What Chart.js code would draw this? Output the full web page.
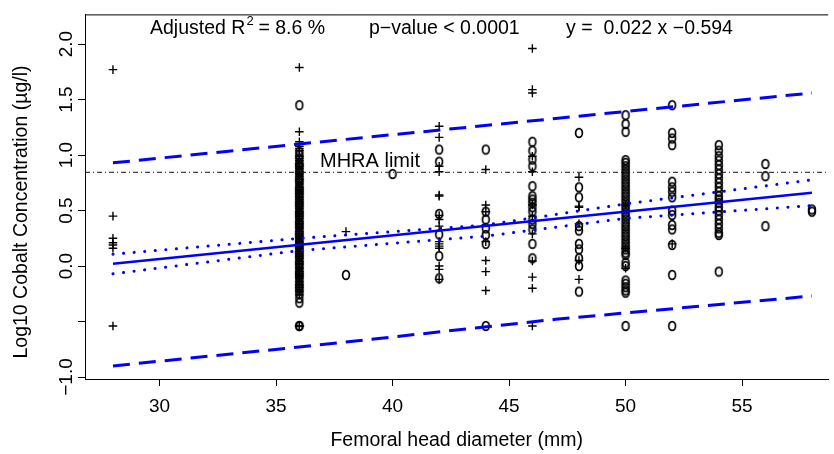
<!DOCTYPE html>
<html>
<head>
<meta charset="utf-8">
<script src="https://cdn.jsdelivr.net/npm/chart.js@4.4.1/dist/chart.umd.min.js"></script>
<style>
html, body { margin: 0; padding: 0; background: #fff; }
</style>
</head>
<body>
<canvas id="chart" width="834" height="454"></canvas>
<script>
// femoral head diameters (mm) and log10 cobalt values
const diameters = [28, 36, 38, 40, 42, 44, 46, 48, 50, 52, 54, 56, 58];
const plusValues = [
    [1.77, 0.45, 0.25, 0.21, 0.19, 0.16, -0.54],
    [1.79, 1.21, 1.12, 1.08, 1.06, 1.04, 0.99, 0.97, 0.95, 0.92, 0.90, 0.88, 0.85, 0.83, 0.81, 0.78, 0.76, 0.74, 0.71, 0.69, 0.67, 0.65, 0.62, 0.60, 0.58, 0.56, 0.54, 0.52, 0.49, 0.47, 0.45, 0.43, 0.40, 0.38, 0.36, 0.34, 0.31, 0.29, 0.27, 0.25, 0.22, 0.20, 0.18, 0.16, 0.13, 0.11, 0.09, 0.07, 0.04, 0.02, -0.02, -0.05, -0.07, -0.09, -0.11, -0.14, -0.17, -0.19, -0.23, -0.26, -0.54, -0.54],
    [0.31],
    [],
    [1.26, 1.16, 0.90, 0.85, 0.64, 0.63, 0.455, 0.42, 0.36, 0.22, 0.20, 0.18, 0.16, 0.0, -0.03, -0.12],
    [0.87, 0.55, 0.49, 0.22, 0.05, -0.05, -0.22],
    [1.96, 1.59, 1.56, 0.99, 0.85, 0.55, 0.45, 0.29, 0.045, -0.10, -0.20, -0.54],
    [0.80, 0.54, 0.53, 0.38, 0.05, -0.12],
    [0.55, 0.16, -0.02],
    [0.20],
    [],
    [],
    []
];
const circleValues = [
    [],
    [1.45, 1.03, 1.00, 0.97, 0.93, 0.91, 0.89, 0.86, 0.84, 0.80, 0.78, 0.76, 0.72, 0.70, 0.68, 0.66, 0.64, 0.62, 0.59, 0.57, 0.55, 0.53, 0.50, 0.48, 0.46, 0.44, 0.41, 0.39, 0.37, 0.35, 0.32, 0.30, 0.28, 0.26, 0.23, 0.21, 0.19, 0.17, 0.14, 0.12, 0.10, 0.08, 0.05, 0.03, 0.01, -0.01, -0.04, -0.06, -0.08, -0.10, -0.13, -0.16, -0.18, -0.20, -0.22, -0.25, -0.29, -0.33, -0.54, -0.54],
    [-0.08],
    [0.83],
    [1.05, 0.94, 0.47, 0.285, 0.09, -0.11],
    [1.05, 0.49, 0.42, 0.34, 0.28, 0.20, -0.54],
    [1.12, 1.04, 0.96, 0.90, 0.72, 0.63, 0.60, 0.57, 0.53, 0.49, 0.42, 0.38, 0.33, 0.20, 0.07],
    [1.20, 0.71, 0.62, 0.36, 0.32, 0.20, 0.15, 0.07, 0.0, -0.23],
    [1.36, 1.28, 1.21, 0.955, 0.93, 0.90, 0.87, 0.84, 0.81, 0.78, 0.75, 0.72, 0.69, 0.66, 0.63, 0.60, 0.57, 0.54, 0.51, 0.48, 0.45, 0.42, 0.39, 0.36, 0.33, 0.30, 0.27, 0.24, 0.21, 0.18, 0.15, 0.12, 0.10, 0.03, 0.0, -0.13, -0.16, -0.19, -0.22, -0.24, -0.54],
    [1.45, 1.20, 1.15, 1.09, 0.76, 0.71, 0.67, 0.62, 0.50, 0.46, 0.37, 0.33, 0.19, -0.08, -0.54],
    [1.09, 1.04, 0.99, 0.95, 0.91, 0.87, 0.83, 0.79, 0.75, 0.71, 0.67, 0.63, 0.60, 0.57, 0.53, 0.50, 0.46, 0.42, 0.38, 0.34, 0.30, 0.28, -0.05],
    [0.92, 0.81, 0.36],
    [0.49, 0.51]
];

// regression line, confidence band (dotted), prediction band (dashed)
const fitX = [28, 58];
const fitY = [0.02, 0.66];
const ciX = [28, 36, 44, 50, 58];
const ciUpper = [0.107, 0.25, 0.37, 0.56, 0.777];
const ciLower = [-0.07, 0.14, 0.27, 0.43, 0.545];
const piX = [28, 36, 47, 58];
const piUpper = [0.93, 1.10, 1.33, 1.56];
const piLower = [-0.90, -0.73, -0.48, -0.27];
const mhraLimit = 0.845;

const xMin = 26.8, xMax = 58.7;
const yMin = -1.018, yMax = 2.268;
const xTicks = [30, 35, 40, 45, 50, 55];
const yTicks = [-1, -0.5, 0, 0.5, 1, 1.5, 2];
const yTickLabels = ['\u22121.0', '', '0.0', '0.5', '1.0', '1.5', '2.0'];

const FONT = '"Liberation Sans", Arial, Helvetica, sans-serif';

function toPoints(values) {
    const pts = [];
    values.forEach((list, i) => {
        list.forEach((v) => pts.push({ x: diameters[i], y: v }));
    });
    return pts;
}
function pairs(xs, ys) {
    return xs.map((x, i) => ({ x: x, y: ys[i] }));
}
function makeRing() {
    const c = document.createElement('canvas');
    c.width = 12;
    c.height = 14;
    const g = c.getContext('2d');
    g.strokeStyle = '#000';
    g.lineWidth = 1.7;
    g.beginPath();
    g.ellipse(6, 7, 3.4, 4.4, 0, 0, Math.PI * 2);
    g.stroke();
    return c;
}

function lineSet(data, width, dash, color) {
    return {
        data: data,
        showLine: true,
        borderColor: color || '#0000ff',
        borderWidth: width,
        borderDash: dash,
        borderCapStyle: dash.length && dash[0] < 1 ? 'round' : 'butt',
        pointRadius: 0,
        fill: false
    };
}

// top border, rotated y labels, y title and the text annotations
const decorations = {
    id: 'decorations',
    afterDraw(chart) {
        const { ctx, chartArea: a, scales: { y } } = chart;
        ctx.save();
        ctx.strokeStyle = '#000';
        ctx.lineWidth = 1;
        ctx.beginPath();
        ctx.moveTo(a.left, a.top + 0.5);
        ctx.lineTo(a.right, a.top + 0.5);
        ctx.stroke();

        ctx.fillStyle = '#000';
        ctx.font = '19px ' + FONT;
        ctx.textAlign = 'center';
        ctx.textBaseline = 'middle';
        yTicks.forEach((v, i) => {
            if (!yTickLabels[i]) return;
            ctx.save();
            ctx.translate(67, y.getPixelForValue(v));
            ctx.rotate(-Math.PI / 2);
            ctx.fillText(yTickLabels[i], 0, 0);
            ctx.restore();
        });

        ctx.save();
        ctx.font = '19.5px ' + FONT;
        ctx.translate(22, 212);
        ctx.rotate(-Math.PI / 2);
        ctx.fillText('Log10 Cobalt Concentration (\u00b5g/l)', 0, 0);
        ctx.restore();

        ctx.textAlign = 'left';
        ctx.textBaseline = 'alphabetic';
        ctx.font = '19.5px ' + FONT;
        ctx.fillText('Adjusted R', 150, 34);
        let w = ctx.measureText('Adjusted R').width;
        ctx.font = '13px ' + FONT;
        ctx.fillText('2', 150 + w + 1, 25);
        ctx.font = '19.5px ' + FONT;
        ctx.fillText('= 8.6 %', 150 + w + 13, 34);
        ctx.fillText('p\u2212value < 0.0001', 369, 34);
        ctx.fillText('y =  0.022 x \u22120.594', 566, 34);

        ctx.font = '20px ' + FONT;
        ctx.fillText('MHRA limit', 320, 167);
        ctx.restore();
    }
};

const ring = makeRing();

new Chart(document.getElementById('chart'), {
    type: 'scatter',
    data: {
        datasets: [
            lineSet(pairs(fitX, fitY), 2.6, []),
            lineSet(pairs(ciX, ciUpper), 3, [0.1, 10.5]),
            lineSet(pairs(ciX, ciLower), 3, [0.1, 10.5]),
            lineSet(pairs(piX, piUpper), 3, [17, 9]),
            lineSet(pairs(piX, piLower), 3, [17, 9]),
            lineSet([{ x: xMin, y: mhraLimit }, { x: xMax, y: mhraLimit }], 1, [5, 3, 1, 3], '#111'),
            {
                data: toPoints(plusValues),
                pointStyle: 'cross',
                pointRadius: 4.3,
                borderColor: '#000',
                borderWidth: 1.4,
                backgroundColor: '#000'
            },
            {
                data: toPoints(circleValues),
                pointStyle: ring,
                pointRadius: 4,
                borderColor: '#000',
                backgroundColor: '#000'
            }
        ]
    },
    options: {
        responsive: false,
        animation: false,
        events: [],
        layout: { padding: { top: 11, left: 0, right: 0, bottom: 0 } },
        plugins: { legend: { display: false }, tooltip: { enabled: false } },
        scales: {
            x: {
                type: 'linear',
                min: xMin,
                max: xMax,
                afterBuildTicks: (s) => { s.ticks = xTicks.map((v) => ({ value: v })); },
                afterFit: (s) => { s.height = 75; },
                border: { display: true, color: '#000', width: 1 },
                grid: { drawOnChartArea: false, drawTicks: true, tickLength: 7, tickColor: '#000' },
                ticks: { color: '#000', font: { family: FONT, size: 19 }, padding: 9, maxRotation: 0, autoSkip: false },
                title: {
                    display: true,
                    text: 'Femoral head diameter (mm)',
                    color: '#000',
                    font: { family: FONT, size: 19.5 },
                    padding: { top: 0, bottom: 2 }
                }
            },
            y: {
                type: 'linear',
                min: yMin,
                max: yMax,
                afterBuildTicks: (s) => { s.ticks = yTicks.map((v) => ({ value: v })); },
                afterFit: (s) => { s.width = 85; },
                border: { display: true, color: '#000', width: 1 },
                grid: { drawOnChartArea: false, drawTicks: true, tickLength: 7, tickColor: '#000' },
                ticks: { color: 'rgba(0,0,0,0)', font: { family: FONT, size: 19 } }
            }
        }
    },
    plugins: [decorations]
});
</script>
</body>
</html>
